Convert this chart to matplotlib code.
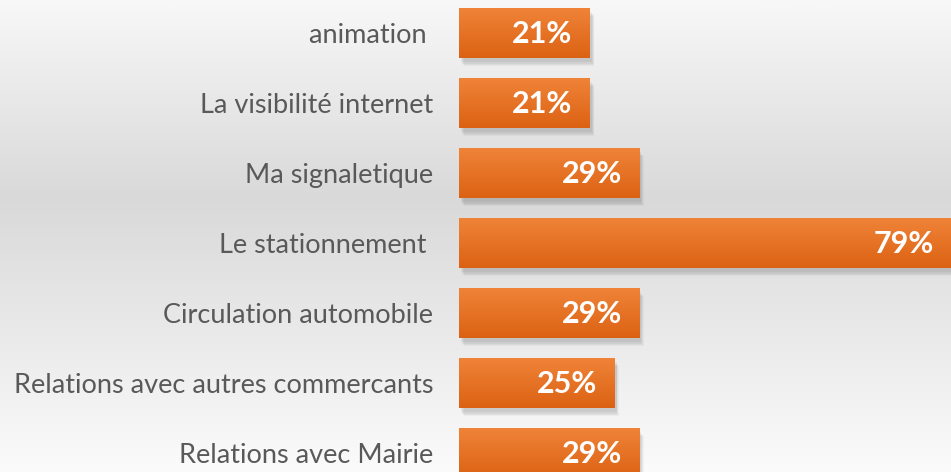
import numpy as np
import matplotlib
matplotlib.use('agg')
import matplotlib.pyplot as plt
from matplotlib.colors import LinearSegmentedColormap
from matplotlib.patches import Rectangle

# Data (top to bottom)
categories = ['animation ', 'La visibilité internet', 'Ma signaletique', 'Le stationnement ',
              'Circulation automobile', 'Relations avec autres commercants', 'Relations avec Mairie']
values = [21, 21, 29, 79, 29, 25, 29]
value_labels = ['21%', '21%', '29%', '79%', '29%', '25%', '29%']

W, H = 951, 472
fig = plt.figure(figsize=(W / 100, H / 100), dpi=100)

# background gradient (light top, gray middle, light bottom)
bg = fig.add_axes([0, 0, 1, 1], zorder=0)
bg_cmap = LinearSegmentedColormap.from_list('bg', [(0.0, '#f8f8f8'), (0.42, '#d9d9d9'), (1.0, '#fbfbfb')])
bg.imshow(np.linspace(0, 1, 256).reshape(-1, 1), aspect='auto', cmap=bg_cmap, extent=[0, 1, 0, 1], origin='upper')
bg.axis('off')

# bar axes: left edge of bars at x=459px, bar pitch 70px, first centre 33px
left = 459 / W
ax = fig.add_axes([left, 0, 1 - left, 1], zorder=1)
ax.patch.set_alpha(0)

bar_cmap = LinearSegmentedColormap.from_list('bar', ['#ef8338', '#dc6213'])
bh = 0.714
y = np.arange(len(values))
bars = ax.barh(y, values, height=bh, color='none', edgecolor='none')

for b, v, lab in zip(bars, values, value_labels):
    x0, y0, w, h = b.get_x(), b.get_y(), b.get_width(), b.get_height()
    # soft shadow
    for k, a in enumerate([0.05, 0.05, 0.04, 0.03]):
        ax.add_patch(Rectangle((x0 + 0.3 + k * 0.15, y0 + 0.06 + k * 0.02), w, h,
                               facecolor='#000000', alpha=a, edgecolor='none', zorder=1))
    im = ax.imshow(np.linspace(0, 1, 100).reshape(-1, 1), aspect='auto', cmap=bar_cmap,
                   extent=[x0, x0 + w, y0 + h, y0], origin='upper', zorder=2)
    clip = Rectangle((x0, y0), w, h, transform=ax.transData, facecolor='none', edgecolor='none')
    ax.add_patch(clip)
    im.set_clip_path(clip)
    ax.text(x0 + w - 2.8, y0 + h / 2 + 0.02, lab, ha='right', va='center', color='white',
            fontsize=22, fontweight='bold', family='Lato', zorder=3)

ax.set_xlim(0, 79)
ax.set_ylim((H - 33) / 70, -33 / 70)
ax.set_yticks(y)
ax.set_yticklabels(categories, fontsize=19.5, color='#595959', family='Lato')
ax.tick_params(axis='y', length=0, pad=18.5)
ax.set_xticks([])
for s in ax.spines.values():
    s.set_visible(False)

plt.savefig('out.png', dpi=100)
